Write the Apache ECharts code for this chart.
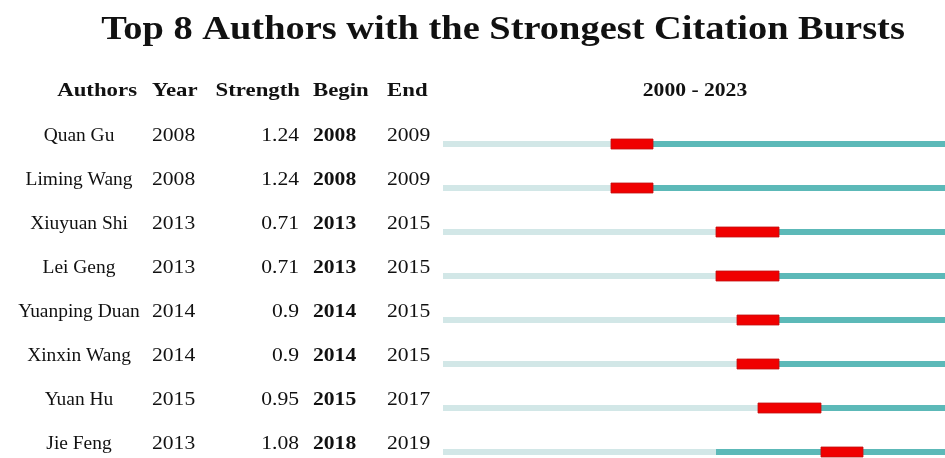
<!DOCTYPE html>
<html>
<head>
<meta charset="utf-8">
<script src="https://cdn.jsdelivr.net/npm/echarts@6/dist/echarts.min.js"></script>
<style>
  html, body { margin: 0; padding: 0; background: #fff; }
  #chart { width: 945px; height: 458px; }
</style>
</head>
<body>
<div id="chart"></div>
<script>
// ---- data ----
const authors   = ["Quan Gu", "Liming Wang", "Xiuyuan Shi", "Lei Geng", "Yuanping Duan", "Xinxin Wang", "Yuan Hu", "Jie Feng"];
const years     = [2008, 2008, 2013, 2013, 2014, 2014, 2015, 2013];
const strengths = ["1.24", "1.24", "0.71", "0.71", "0.9", "0.9", "0.95", "1.08"];
const begins    = [2008, 2008, 2013, 2013, 2014, 2014, 2015, 2018];
const ends      = [2009, 2009, 2015, 2015, 2015, 2015, 2017, 2019];
const firstYear = 2000;
const lastYear  = 2023;

const titleText = "Top 8 Authors with the Strongest Citation Bursts";
const headers = ["Authors", "Year", "Strength", "Begin", "End"];

// ---- colours / fonts ----
const LIGHT = "#d2e7e7", TEAL = "#5cb9b8", RED = "#f00000";
const SERIF = '"Liberation Serif", "DejaVu Serif", serif';
const SX = 1.2;   // the picture is a bit wide

// segments: [start, end, row, kind]  kind 0=before, 1=active, 2=burst
const segs = [];
const bursts = [];
authors.forEach((a, i) => {
  segs.push([firstYear, years[i], i, 0]);
  segs.push([years[i], begins[i], i, 1]);
  segs.push([ends[i] + 1, lastYear + 1, i, 1]);
  bursts.push([begins[i], ends[i] + 1, i, 2]);
});

function renderSeg(params, api) {
  const kind = api.value(3);
  const s = api.coord([api.value(0), api.value(2)]);
  const e = api.coord([api.value(1), api.value(2)]);
  const h = kind === 2 ? 10 : 6;
  if (e[0] - s[0] <= 0) return null;
  return {
    type: "rect",
    shape: { x: s[0], y: s[1] - h / 2, width: e[0] - s[0], height: h },
    style: kind === 2
      ? { fill: RED, stroke: "#c01010", lineWidth: 0.8 }
      : { fill: kind === 0 ? LIGHT : TEAL }
  };
}

const chart = echarts.init(document.getElementById("chart"));
chart.setOption({
  backgroundColor: "#fff",
  animation: false,
  grid: { left: 443, top: 122, width: 504, height: 352, outerBoundsMode: "none", containLabel: false },
  xAxis: { type: "value", min: firstYear, max: lastYear + 1, show: false },
  yAxis: { type: "category", data: authors, inverse: true, show: false },
  series: [
    { type: "custom", renderItem: renderSeg, encode: { x: [0, 1], y: 2 }, data: segs, silent: true, clip: false },
    { type: "custom", renderItem: renderSeg, encode: { x: [0, 1], y: 2 }, data: bursts, silent: true, clip: false, z: 3 }
  ]
});

// ---- table text ----
function txt(x, y, text, opts) {
  return {
    type: "text", x: x, y: y, scaleX: opts.sx || SX,
    style: {
      text: text,
      fill: "#111",
      font: (opts.bold ? "bold " : "") + opts.size + "px " + SERIF,
      align: opts.align || "left", textAlign: opts.align || "left",
      verticalAlign: "middle", textVerticalAlign: "middle"
    }
  };
}

const g = [];
g.push(txt(503, 30, titleText, { bold: true, size: 34, align: "center", sx: 1.13 }));

const hy = 91;
g.push(txt(137, hy, headers[0], { bold: true, size: 19, align: "right" }));
g.push(txt(152, hy, headers[1], { bold: true, size: 19 }));
g.push(txt(300, hy, headers[2], { bold: true, size: 19, align: "right" }));
g.push(txt(313, hy, headers[3], { bold: true, size: 19 }));
g.push(txt(387, hy, headers[4], { bold: true, size: 19 }));
g.push(txt(695, hy, firstYear + " - " + lastYear, { bold: true, size: 18, align: "center" }));

authors.forEach((a, i) => {
  const y = chart.convertToPixel({ yAxisIndex: 0 }, a) - 8;
  g.push(txt(79, y, a, { size: 18, align: "center", sx: 1.08 }));
  g.push(txt(152, y, String(years[i]), { size: 18 }));
  g.push(txt(299, y, strengths[i], { size: 18, align: "right" }));
  g.push(txt(313, y, String(begins[i]), { bold: true, size: 18 }));
  g.push(txt(387, y, String(ends[i]), { size: 18 }));
});

chart.setOption({ graphic: g });
</script>
</body>
</html>
